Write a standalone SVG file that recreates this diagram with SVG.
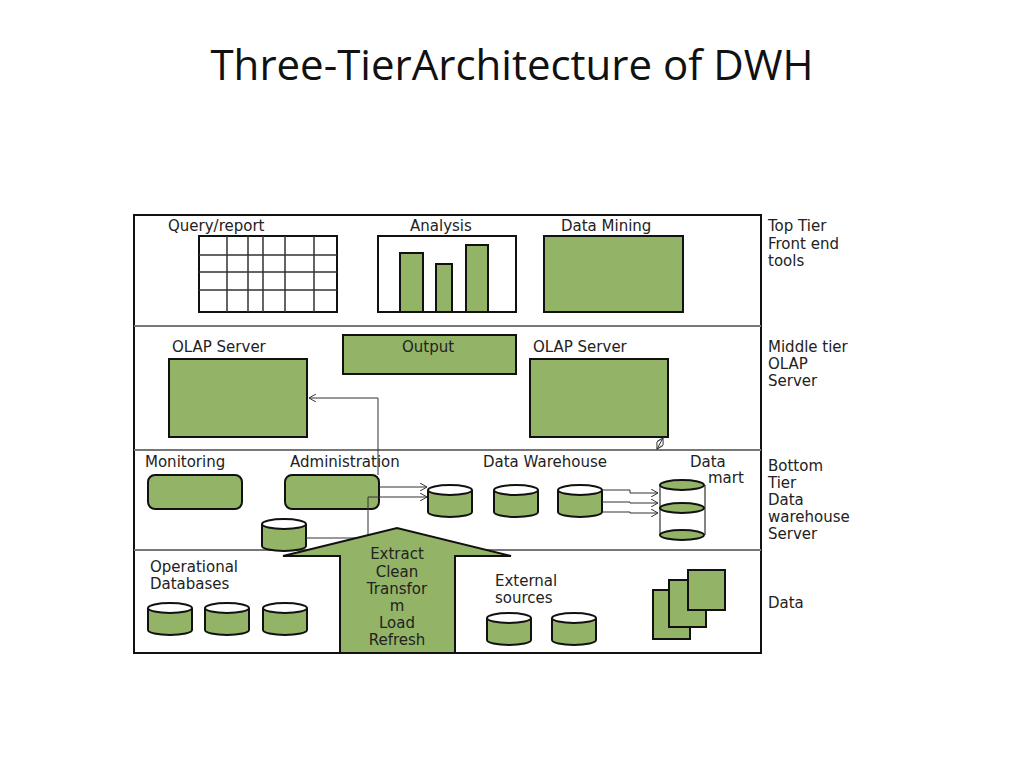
<svg xmlns="http://www.w3.org/2000/svg" width="1024" height="768" viewBox="0 0 1024 768">
<style>
.t{font-family:"DejaVu Sans",sans-serif;font-size:15px;fill:#222}
.g{fill:#93b366;stroke:#111;stroke-width:2}
.w{fill:#fff;stroke:#111;stroke-width:2}
.c{fill:none;stroke:#333;stroke-width:1}
.gl{stroke:#333;stroke-width:1.5}
</style>
<defs>
<marker id="a" markerWidth="8" markerHeight="8" refX="7" refY="4" orient="auto" markerUnits="userSpaceOnUse"><path d="M0,0L7,4L0,8" fill="none" stroke="#333" stroke-width="1"/></marker>
<marker id="b" markerWidth="8" markerHeight="8" refX="7" refY="4" orient="auto-start-reverse" markerUnits="userSpaceOnUse"><path d="M0,0L7,4L0,8" fill="none" stroke="#333" stroke-width="1"/></marker>
<g id="cyl"><path class="g" d="M0,6 V28 A22,5 0 0 0 44,28 V6"/><ellipse class="g" cx="22" cy="6" rx="22" ry="5" fill="#fff" style="fill:#fff"/></g>
</defs>
<rect width="1024" height="768" fill="#fff"/>
<text x="512" y="80" text-anchor="middle" style="font-family:'Open Sans',sans-serif;font-size:42px;fill:#111">Three-TierArchitecture of DWH</text>
<g id="frame">
<rect x="134" y="215" width="627" height="438" fill="none" stroke="#111" stroke-width="2"/>
<line x1="134" y1="326" x2="761" y2="326" stroke="#777" stroke-width="2"/>
<line x1="134" y1="450" x2="761" y2="450" stroke="#777" stroke-width="2"/>
<line x1="134" y1="550" x2="761" y2="550" stroke="#777" stroke-width="2"/>
</g>
<g id="query"><text class="t" x="168" y="231">Query/report</text>
<rect class="w" x="199" y="236" width="138" height="76"/>
<path class="gl" d="M227,236V312M248,236V312M263,236V312M285,236V312M314,236V312M199,255H337M199,272H337M199,290H337"/></g>
<g id="analysis"><text class="t" x="410" y="231">Analysis</text>
<rect class="w" x="378" y="236" width="138" height="76"/>
<rect class="g" x="400" y="253" width="23" height="59"/><rect class="g" x="436" y="264" width="16" height="48"/><rect class="g" x="466" y="245" width="22" height="67"/></g>
<g id="mining"><text class="t" x="561" y="231">Data Mining</text><rect class="g" x="544" y="236" width="139" height="76"/></g>
<g id="olap1"><text class="t" x="172" y="352">OLAP Server</text><rect class="g" x="169" y="359" width="138" height="78"/></g>
<g id="output"><rect class="g" x="343" y="335" width="173" height="39"/><text class="t" x="428" y="352" text-anchor="middle">Output</text></g>
<g id="olap2"><text class="t" x="533" y="352">OLAP Server</text><rect class="g" x="530" y="359" width="138" height="78"/></g>
<g id="monitoring"><text class="t" x="145" y="467">Monitoring</text><rect class="g" x="148" y="475" width="94" height="34" rx="7"/></g>
<g id="admin"><text class="t" x="290" y="467">Administration</text><rect class="g" x="285" y="475" width="94" height="34" rx="7"/></g>
<g id="smallcyl"><use href="#cyl" x="262" y="518"/></g>
<g id="dw"><text class="t" x="483" y="467">Data Warehouse</text>
<use href="#cyl" x="428" y="484"/><use href="#cyl" x="494" y="484"/><use href="#cyl" x="558" y="484"/></g>
<g id="datamart"><text class="t" x="690" y="467">Data</text><text class="t" x="708" y="483">mart</text>
<path d="M660,485V535M705,485V535" stroke="#333" stroke-width="1.2"/>
<ellipse class="g" cx="682" cy="485" rx="22" ry="5"/><ellipse class="g" cx="682" cy="508" rx="22" ry="5"/><ellipse class="g" cx="682" cy="535" rx="22" ry="5"/></g>
<g id="connectors">
<path class="c" d="M378,475V398H309" marker-end="url(#a)"/>
<path class="c" d="M379,487H427" marker-end="url(#a)"/>
<path class="c" d="M306,538H368V497H427" marker-end="url(#a)"/>
<path class="c" d="M602,490H630V493H658" marker-end="url(#a)"/>
<path class="c" d="M602,502H630V503H658" marker-end="url(#a)"/>
<path class="c" d="M602,512H630V513H658" marker-end="url(#a)"/>
<path class="c" d="M663,438L657,449" marker-start="url(#b)" marker-end="url(#b)"/>
</g>
<g id="etl"><path class="g" d="M340,653V556H283L397,528L511,556H455V653Z"/>
<g class="t" text-anchor="middle"><text x="397" y="559">Extract</text><text x="397" y="577">Clean</text><text x="397" y="594">Transfor</text><text x="397" y="611">m</text><text x="397" y="628">Load</text><text x="397" y="645">Refresh</text></g></g>
<g id="opdb"><text class="t" x="150" y="572">Operational</text><text class="t" x="150" y="589">Databases</text>
<use href="#cyl" x="148" y="602"/><use href="#cyl" x="205" y="602"/><use href="#cyl" x="263" y="602"/></g>
<g id="ext"><text class="t" x="495" y="586">External</text><text class="t" x="495" y="603">sources</text>
<use href="#cyl" x="487" y="612"/><use href="#cyl" x="552" y="612"/></g>
<g id="docs"><rect class="g" x="653" y="590" width="37" height="49"/><rect class="g" x="669" y="580" width="37" height="47"/><rect class="g" x="688" y="570" width="37" height="40"/></g>
<g id="labels" class="t">
<text x="768" y="231">Top Tier</text><text x="768" y="249">Front end</text><text x="768" y="266">tools</text>
<text x="768" y="352">Middle tier</text><text x="768" y="369">OLAP</text><text x="768" y="386">Server</text>
<text x="768" y="471">Bottom</text><text x="768" y="488">Tier</text><text x="768" y="505">Data</text><text x="768" y="522">warehouse</text><text x="768" y="539">Server</text>
<text x="768" y="608">Data</text></g>
</svg>
